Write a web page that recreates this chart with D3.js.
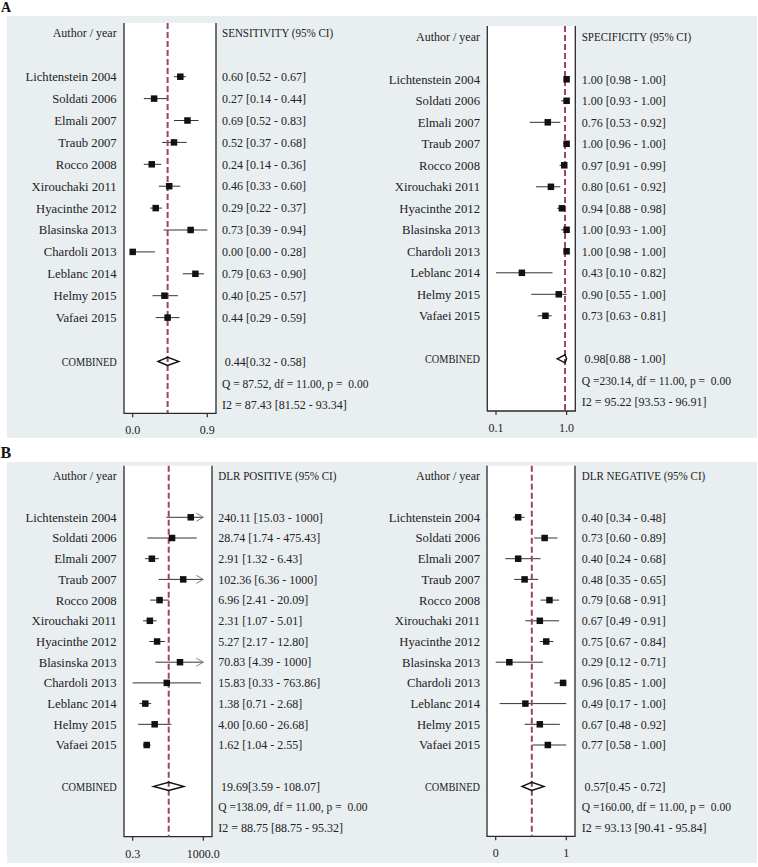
<!DOCTYPE html>
<html>
<head>
<meta charset="utf-8">
<script src="https://cdn.jsdelivr.net/npm/d3@7"></script>
<style>
  body { margin: 0; background: #fff; }
  svg text { font-family: 'Liberation Serif', 'Times New Roman', serif; font-size: 12px; fill: #222; white-space: pre; }
  svg text.study { font-size: 12.7px; }
  svg text.panel-tag { font-weight: bold; fill: #111; }
</style>
</head>
<body>
<div id="chart"></div>
<script>
// study labels, same order in all four panels
const authors = ['Lichtenstein 2004', 'Soldati 2006', 'Elmali 2007', 'Traub 2007', 'Rocco 2008',
  'Xirouchaki 2011', 'Hyacinthe 2012', 'Blasinska 2013', 'Chardoli 2013', 'Leblanc 2014',
  'Helmy 2015', 'Vafaei 2015'];

// sensitivity
const sensEst  = [0.60, 0.27, 0.69, 0.52, 0.24, 0.46, 0.29, 0.73, 0.00, 0.79, 0.40, 0.44];
const sensLow  = [0.52, 0.14, 0.52, 0.37, 0.14, 0.33, 0.22, 0.39, 0.00, 0.63, 0.25, 0.29];
const sensHigh = [0.67, 0.44, 0.83, 0.68, 0.36, 0.60, 0.37, 0.94, 0.28, 0.90, 0.57, 0.59];
const sensPooled = [0.44, 0.32, 0.58];
const sensHet = [87.52, 11.00, 0.00, 87.43, 81.52, 93.34]; // Q, df, p, I2, lo, hi

// specificity
const specEst  = [1.00, 1.00, 0.76, 1.00, 0.97, 0.80, 0.94, 1.00, 1.00, 0.43, 0.90, 0.73];
const specLow  = [0.98, 0.93, 0.53, 0.96, 0.91, 0.61, 0.88, 0.93, 0.98, 0.10, 0.55, 0.63];
const specHigh = [1.00, 1.00, 0.92, 1.00, 0.99, 0.92, 0.98, 1.00, 1.00, 0.82, 1.00, 0.81];
const specPooled = [0.98, 0.88, 1.00];
const specHet = [230.14, 11.00, 0.00, 95.22, 93.53, 96.91];

// positive likelihood ratio (upper limits capped at 1000)
const plrEst  = [240.11, 28.74, 2.91, 102.36, 6.96, 2.31, 5.27, 70.83, 15.83, 1.38, 4.00, 1.62];
const plrLow  = [15.03, 1.74, 1.32, 6.36, 2.41, 1.07, 2.17, 4.39, 0.33, 0.71, 0.60, 1.04];
const plrHigh = [1000, 475.43, 6.43, 1000, 20.09, 5.01, 12.80, 1000, 763.86, 2.68, 26.68, 2.55];
const plrPooled = [19.69, 3.59, 108.07];
const plrHet = [138.09, 11.00, 0.00, 88.75, 88.75, 95.32];
const plrCap = 1000;

// negative likelihood ratio
const nlrEst  = [0.40, 0.73, 0.40, 0.48, 0.79, 0.67, 0.75, 0.29, 0.96, 0.49, 0.67, 0.77];
const nlrLow  = [0.34, 0.60, 0.24, 0.35, 0.68, 0.49, 0.67, 0.12, 0.85, 0.17, 0.48, 0.58];
const nlrHigh = [0.48, 0.89, 0.68, 0.65, 0.91, 0.91, 0.84, 0.71, 1.00, 1.00, 0.92, 1.00];
const nlrPooled = [0.57, 0.45, 0.72];
const nlrHet = [160.00, 11.00, 0.00, 93.13, 90.41, 95.84];

const W = 758, H = 867;
const svg = d3.select('#chart').append('svg')
    .attr('width', W)
    .attr('height', H);

// grey panel backgrounds + letters
svg.append('rect').attr('x', 7).attr('y', 16).attr('width', 750).attr('height', 422).attr('fill', '#e9eef1');
svg.append('rect').attr('x', 7).attr('y', 462).attr('width', 750).attr('height', 401).attr('fill', '#e9eef1');
svg.append('text').attr('class', 'panel-tag').attr('x', 1).attr('y', 12).style('font-size', '14px').text('A');
svg.append('text').attr('class', 'panel-tag').attr('x', 0.5).attr('y', 458).style('font-size', '16px').text('B');

const fmt = d => d === plrCap ? String(plrCap) : d.toFixed(2);

// the original face has narrow capitals, squeeze all-caps strings a bit
function squeeze(sel, k) {
    sel.each(function () {
        const w = this.getComputedTextLength();
        d3.select(this).attr('textLength', w * k).attr('lengthAdjust', 'spacingAndGlyphs');
    });
}

function drawForest(cfg) {
    const g = svg.append('g');
    const pad = 8.7;
    const ext = [d3.min(cfg.low), d3.max(cfg.high)];
    const x = (cfg.log ? d3.scaleLog() : d3.scaleLinear())
        .domain(ext)
        .range([cfg.left + pad, cfg.right - pad]);
    const y = d3.scaleLinear()
        .domain([0, 1])
        .range([cfg.row0, cfg.row0 + cfg.step]);

    // white plotting strip
    g.append('rect')
        .attr('x', cfg.left).attr('y', cfg.top)
        .attr('width', cfg.right - cfg.left).attr('height', cfg.axisY - cfg.top)
        .attr('fill', '#fff');

    // frame: two verticals and bottom axis
    g.append('path')
        .attr('d', `M${cfg.left},${cfg.top}V${cfg.axisY}H${cfg.right}V${cfg.top}`)
        .attr('fill', 'none')
        .attr('stroke', '#2a2a2a')
        .attr('stroke-width', 1.3);

    // axis ticks at the data extremes
    const ticks = g.selectAll('g.tick')
        .data(ext)
        .enter()
        .append('g')
        .attr('class', 'tick')
        .attr('transform', d => `translate(${x(d)},${cfg.axisY})`);
    ticks.append('line').attr('y2', 4).attr('stroke', '#2a2a2a').attr('stroke-width', 1.2);
    ticks.append('text')
        .attr('y', 17)
        .attr('dy', '0.35em')
        .attr('text-anchor', 'middle')
        .text(cfg.tickFmt);

    // headers
    g.append('text').attr('x', cfg.labelX).attr('y', y(-2)).attr('dy', '0.35em')
        .attr('text-anchor', 'end').text('Author / year');
    g.append('text').attr('x', cfg.valueX).attr('y', y(-2)).attr('dy', '0.35em')
        .text(cfg.title)
        .call(squeeze, 0.92);

    const rows = authors.map((a, i) => ({
        label: a, est: cfg.est[i], low: cfg.low[i], high: cfg.high[i], i
    }));

    // study labels and values
    g.selectAll('text.study')
        .data(rows)
        .enter()
        .append('text')
        .attr('class', 'study')
        .attr('x', cfg.labelX)
        .attr('y', d => y(d.i))
        .attr('dy', '0.35em')
        .attr('text-anchor', 'end')
        .text(d => d.label);
    g.selectAll('text.val')
        .data(rows)
        .enter()
        .append('text')
        .attr('class', 'val')
        .attr('x', cfg.valueX)
        .attr('y', d => y(d.i))
        .attr('dy', '0.35em')
        .text(d => `${fmt(d.est)} [${fmt(d.low)} - ${fmt(d.high)}]`);

    // confidence intervals
    g.selectAll('line.ci')
        .data(rows)
        .enter()
        .append('line')
        .attr('class', 'ci')
        .attr('x1', d => x(d.low))
        .attr('x2', d => x(d.high))
        .attr('y1', d => y(d.i))
        .attr('y2', d => y(d.i))
        .attr('stroke', '#3a3034')
        .attr('stroke-width', 1);

    // open arrow heads where the upper limit was truncated
    g.selectAll('path.arrow')
        .data(rows.filter(d => d.high === plrCap && cfg.log))
        .enter()
        .append('path')
        .attr('class', 'arrow')
        .attr('d', d => {
            const tx = x(d.high), ty = y(d.i);
            return `M${tx - 7},${ty - 4}L${tx},${ty}L${tx - 7},${ty + 4}`;
        })
        .attr('fill', 'none')
        .attr('stroke', '#8c7c82')
        .attr('stroke-width', 1);

    // pooled estimate reference line
    g.append('line')
        .attr('x1', x(cfg.pooled[0])).attr('x2', x(cfg.pooled[0]))
        .attr('y1', cfg.top).attr('y2', cfg.axisY)
        .attr('stroke', '#9a4466')
        .attr('stroke-width', 2)
        .attr('stroke-dasharray', '6,3');

    // study boxes
    const s = 6.5;
    g.selectAll('rect.box')
        .data(rows)
        .enter()
        .append('rect')
        .attr('class', 'box')
        .attr('x', d => x(d.est) - s / 2)
        .attr('y', d => y(d.i) - s / 2)
        .attr('width', s)
        .attr('height', s)
        .attr('fill', '#111');

    // pooled diamond
    const [pe, pl, ph] = cfg.pooled;
    const cy = y(13);
    g.append('path')
        .attr('d', `M${x(pl)},${cy}L${x(pe)},${cy - 4}L${x(ph)},${cy}L${x(pe)},${cy + 4}Z`)
        .attr('fill', 'none')
        .attr('stroke', '#111')
        .attr('stroke-width', 1.5);

    g.append('text').attr('x', cfg.labelX).attr('y', cy).attr('dy', '0.35em')
        .attr('text-anchor', 'end').text('COMBINED')
        .call(squeeze, 0.86);
    g.append('text').attr('x', cfg.valueX + 2.7).attr('y', cy).attr('dy', '0.35em')
        .text(`${fmt(pe)}[${fmt(pl)} - ${fmt(ph)}]`);

    const [q, df, p, i2, i2l, i2h] = cfg.het;
    g.append('text').attr('x', cfg.valueX).attr('y', y(14)).attr('dy', '0.35em')
        .text(`Q =${q.toFixed(2).padStart(6)}, df = ${df.toFixed(2)}, p = ${p.toFixed(2).padStart(5)}`)
        .call(squeeze, 0.96);
    g.append('text').attr('x', cfg.valueX).attr('y', y(15)).attr('dy', '0.35em')
        .text(`I2 = ${i2.toFixed(2)} [${i2l.toFixed(2)} - ${i2h.toFixed(2)}]`);
}

drawForest({
    title: 'SENSITIVITY (95% CI)', est: sensEst, low: sensLow, high: sensHigh,
    pooled: sensPooled, het: sensHet, log: false, tickFmt: d => d3.format('.1f')(Math.floor(d * 10) / 10),
    left: 124, right: 216, top: 23, axisY: 413.3, row0: 76.7, step: 21.9, labelX: 116.7, valueX: 222
});
drawForest({
    title: 'SPECIFICITY (95% CI)', est: specEst, low: specLow, high: specHigh,
    pooled: specPooled, het: specHet, log: false, tickFmt: d3.format('.1f'),
    left: 487.3, right: 575.3, top: 26, axisY: 411, row0: 79.3, step: 21.5, labelX: 480, valueX: 581.7
});
drawForest({
    title: 'DLR POSITIVE (95% CI)', est: plrEst, low: plrLow, high: plrHigh,
    pooled: plrPooled, het: plrHet, log: true, tickFmt: d3.format('.1f'),
    left: 124, right: 212, top: 465.7, axisY: 836.7, row0: 517.3, step: 20.7, labelX: 116.7, valueX: 218.3
});
drawForest({
    title: 'DLR NEGATIVE (95% CI)', est: nlrEst, low: nlrLow, high: nlrHigh,
    pooled: nlrPooled, het: nlrHet, log: false, tickFmt: d3.format('.0f'),
    left: 487, right: 575, top: 465.7, axisY: 836.3, row0: 517.3, step: 20.7, labelX: 480, valueX: 581.7
});
</script>
</body>
</html>
